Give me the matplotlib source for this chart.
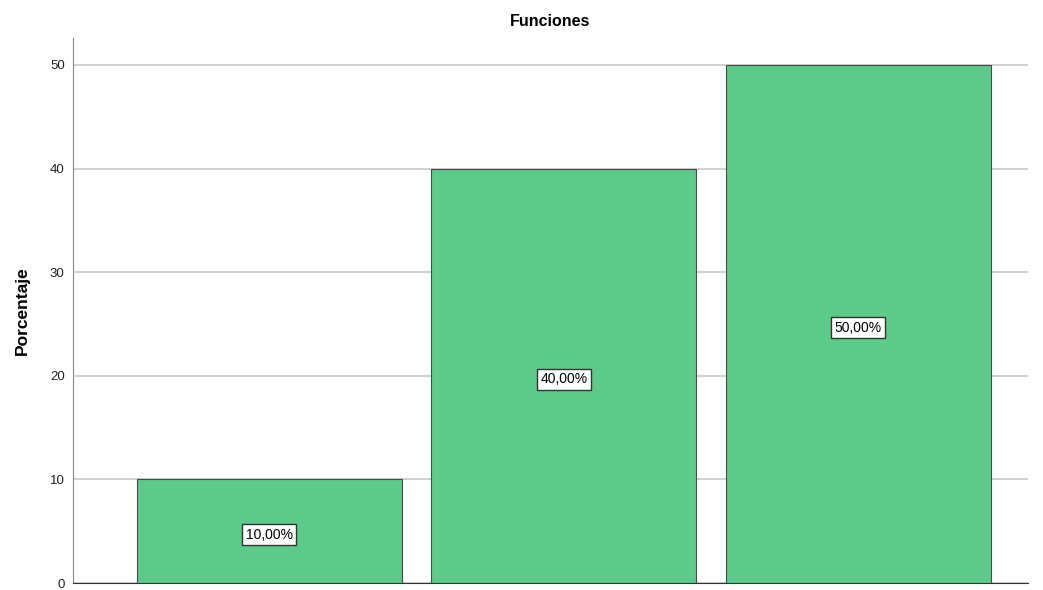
import matplotlib
matplotlib.use("Agg")
import matplotlib.pyplot as plt

categorias = ["A", "B", "C"]
porcentajes = [10, 40, 50]
etiquetas = ["10,00%", "40,00%", "50,00%"]
yticks = [0, 10, 20, 30, 40, 50]

plt.rcParams['font.family'] = ['Liberation Sans', 'DejaVu Sans']

fig = plt.figure(figsize=(10.43, 5.90), dpi=100)
ax = fig.add_axes([73/1043, 7/590, (1028-73)/1043, (583-38)/590])

x = list(range(len(categorias)))
ax.bar(x, porcentajes, width=0.9, color="#5cca8a", edgecolor="#4a4a4a", linewidth=0.8, zorder=3)

# etiquetas un poco por debajo del centro de la barra, como en SPSS
for xi, v, t in zip(x, porcentajes, etiquetas):
    ax.text(xi, v/2 - 0.35, t, ha="center", va="center", fontsize=10, zorder=4,
            bbox=dict(boxstyle="square,pad=0.25", fc="white", ec="#333333", lw=1))

ax.set_xlim(-0.667, 2.576)
ax.set_ylim(0, 52.6)
ax.set_yticks(yticks)
ax.set_xticks([])
ax.yaxis.grid(True, color="#c8c8c8", linewidth=1.2, zorder=0)
ax.set_axisbelow(True)
ax.tick_params(axis="y", length=0, labelsize=9.5, pad=6, colors="#222222")
for s in ["top", "right"]:
    ax.spines[s].set_visible(False)
ax.spines["left"].set_color("#888888")
ax.spines["bottom"].set_color("#333333")

ax.set_ylabel("Porcentaje", fontsize=12.5, fontweight="bold", labelpad=14)
ax.set_title("Funciones", fontsize=11.5, fontweight="bold", pad=9)

fig.savefig("out.png", dpi=100)
